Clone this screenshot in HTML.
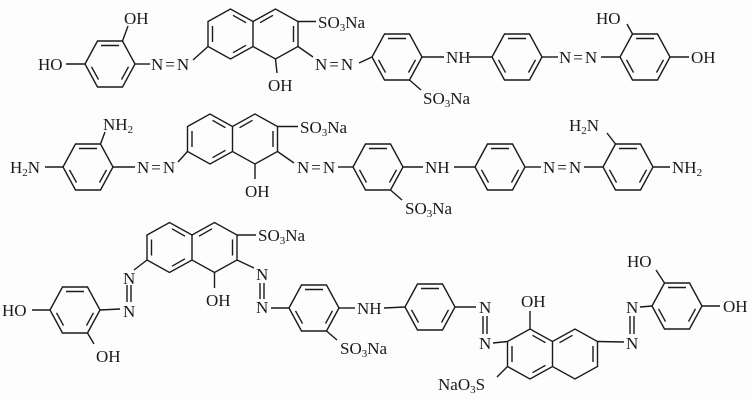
<!DOCTYPE html>
<html><head><meta charset="utf-8"><style>
html,body{margin:0;padding:0;background:#fdfdfd;width:753px;height:401px;overflow:hidden}
svg{display:block}
text{font-family:"Liberation Serif",serif;font-size:17px;fill:#1a1a1a}
.s{font-size:11px}
</style></head><body>
<svg width="753" height="401" viewBox="0 0 753 401" xmlns="http://www.w3.org/2000/svg">
<defs>
<g id="rA" fill="none" stroke="#1a1a1a" stroke-width="1.4">
<polygon points="-25,0 -12.5,-23 12.5,-23 25,0 12.5,23 -12.5,23"/>
<line x1="-9" y1="-18.5" x2="9" y2="-18.5"/>
<line x1="18.5" y1="2.8" x2="11.5" y2="15.6"/>
<line x1="-11.5" y1="15.6" x2="-18.5" y2="2.8"/>
</g>
<g id="nap" fill="none" stroke="#1a1a1a" stroke-width="1.4">
<path d="M-45,-12.5 L-22.5,-25 L0,-12.5 L22.5,-25 L45,-12.5 L45,12.5 L22.5,25 L0,12.5 L-22.5,25 L-45,12.5 Z M0,-12.5 L0,12.5"/>
<line x1="-20" y1="-18.7" x2="-7" y2="-11.3"/>
<line x1="-7" y1="11.3" x2="-20" y2="18.7"/>
<line x1="-40.5" y1="-8" x2="-40.5" y2="8"/>
<line x1="7" y1="-11.3" x2="20" y2="-18.7"/>
<line x1="40.5" y1="-8" x2="40.5" y2="8"/>
</g>
</defs>
<g stroke="#1a1a1a" stroke-width="1.4" fill="none">
<!-- row 1 -->
<line x1="66" y1="64" x2="85" y2="64"/><line x1="122.5" y1="41" x2="128" y2="26"/>
<line x1="135" y1="64" x2="150" y2="64"/><line x1="193" y1="60" x2="208" y2="46.5"/>
<line x1="298" y1="21.5" x2="316" y2="21.5"/><line x1="275.5" y1="59" x2="277" y2="73"/>
<line x1="298" y1="46.5" x2="313" y2="57"/><line x1="359" y1="63" x2="372" y2="57"/>
<line x1="422" y1="57" x2="444" y2="57"/><line x1="409.5" y1="80" x2="421" y2="90"/>
<line x1="469" y1="57" x2="492" y2="57"/><line x1="542" y1="57" x2="558" y2="57"/>
<line x1="601" y1="57" x2="620" y2="57"/><line x1="632.5" y1="34" x2="627" y2="24"/>
<line x1="670" y1="57" x2="689" y2="57"/>
<!-- row 2 -->
<line x1="45" y1="167" x2="63" y2="167"/><line x1="100.5" y1="144" x2="105" y2="132"/>
<line x1="113" y1="167" x2="135" y2="167"/><line x1="178" y1="162" x2="187.5" y2="151.5"/>
<line x1="277.5" y1="126.5" x2="298" y2="126.5"/><line x1="255" y1="164" x2="255" y2="179"/>
<line x1="277.5" y1="151.5" x2="294" y2="163"/><line x1="338" y1="167" x2="353" y2="167"/>
<line x1="403" y1="167" x2="423" y2="167"/><line x1="390.5" y1="190" x2="402" y2="200"/>
<line x1="454" y1="167" x2="475" y2="167"/><line x1="525" y1="167" x2="541" y2="167"/>
<line x1="584" y1="167" x2="603" y2="167"/><line x1="615.5" y1="144" x2="607" y2="133"/>
<line x1="653" y1="167" x2="670" y2="167"/>
<!-- row 3 -->
<line x1="237" y1="235" x2="256" y2="235"/><line x1="214.5" y1="272.5" x2="214.5" y2="288"/>
<line x1="147" y1="260" x2="134" y2="270"/>
<line x1="127" y1="285" x2="127" y2="302"/><line x1="131" y1="285" x2="131" y2="302"/>
<line x1="120" y1="309" x2="100" y2="310"/>
<line x1="32" y1="310" x2="50" y2="310"/><line x1="87.5" y1="333" x2="94" y2="344"/>
<line x1="237" y1="260" x2="254" y2="268"/>
<line x1="260" y1="283" x2="260" y2="299"/><line x1="264" y1="283" x2="264" y2="299"/>
<line x1="271" y1="308" x2="289" y2="308"/>
<line x1="339" y1="308" x2="355" y2="308"/><line x1="326.5" y1="331" x2="337" y2="340"/>
<line x1="384" y1="308" x2="405" y2="307"/><line x1="455" y1="307" x2="476" y2="307"/>
<line x1="483" y1="316" x2="483" y2="334"/><line x1="487" y1="316" x2="487" y2="334"/>
<line x1="493" y1="343" x2="507.5" y2="341.5"/>
<line x1="530" y1="329" x2="530" y2="311"/>
<line x1="507.5" y1="366.5" x2="497" y2="377"/>
<line x1="597.5" y1="341.5" x2="624" y2="342"/>
<line x1="630" y1="316" x2="630" y2="334"/><line x1="634" y1="316" x2="634" y2="334"/>
<line x1="640" y1="307" x2="652" y2="306"/><line x1="664.5" y1="283" x2="656" y2="270"/>
<line x1="702" y1="306" x2="720" y2="306"/>
</g>
<use href="#rA" x="110" y="64"/><use href="#nap" x="253" y="34"/>
<use href="#rA" x="397" y="57"/><use href="#rA" x="517" y="57"/><use href="#rA" x="645" y="57"/>
<use href="#rA" x="88" y="167"/><use href="#nap" x="232.5" y="139"/>
<use href="#rA" x="378" y="167"/><use href="#rA" x="500" y="167"/><use href="#rA" x="628" y="167"/>
<use href="#nap" x="192" y="247.5"/><use href="#rA" x="75" y="310"/>
<use href="#rA" x="314" y="308"/><use href="#rA" x="430" y="307"/>
<use href="#nap" x="552.5" y="354"/><use href="#rA" x="677" y="306"/>

<!-- row 1 text -->
<text x="38" y="70">HO</text>
<text x="124" y="24">OH</text>
<text x="151" y="70" letter-spacing="2">N=N</text>
<text x="318" y="28">SO<tspan class="s" dy="3">3</tspan><tspan dy="-3">Na</tspan></text>
<text x="268" y="91">OH</text>
<text x="315" y="70" letter-spacing="2">N=N</text>
<text x="446" y="63">NH</text>
<text x="423" y="104">SO<tspan class="s" dy="3">3</tspan><tspan dy="-3">Na</tspan></text>
<text x="559" y="63" letter-spacing="2">N=N</text>
<text x="596" y="24">HO</text>
<text x="691" y="63">OH</text>
<!-- row 2 text -->
<text x="10" y="173">H<tspan class="s" dy="3">2</tspan><tspan dy="-3">N</tspan></text>
<text x="103" y="130">NH<tspan class="s" dy="3">2</tspan></text>
<text x="137" y="173" letter-spacing="2">N=N</text>
<text x="300" y="133">SO<tspan class="s" dy="3">3</tspan><tspan dy="-3">Na</tspan></text>
<text x="245" y="197">OH</text>
<text x="297" y="173" letter-spacing="2">N=N</text>
<text x="425" y="173">NH</text>
<text x="405" y="214">SO<tspan class="s" dy="3">3</tspan><tspan dy="-3">Na</tspan></text>
<text x="543" y="173" letter-spacing="2">N=N</text>
<text x="569" y="131">H<tspan class="s" dy="3">2</tspan><tspan dy="-3">N</tspan></text>
<text x="672" y="173">NH<tspan class="s" dy="3">2</tspan></text>
<!-- row 3 text -->
<text x="258" y="241">SO<tspan class="s" dy="3">3</tspan><tspan dy="-3">Na</tspan></text>
<text x="206" y="306">OH</text>
<text x="123" y="284">N</text>
<text x="123" y="317">N</text>
<text x="2" y="316">HO</text>
<text x="96" y="362">OH</text>
<text x="256" y="280">N</text>
<text x="256" y="313">N</text>
<text x="357" y="314">NH</text>
<text x="340" y="354">SO<tspan class="s" dy="3">3</tspan><tspan dy="-3">Na</tspan></text>
<text x="479" y="313">N</text>
<text x="479" y="349">N</text>
<text x="521" y="307">OH</text>
<text x="438" y="390">NaO<tspan class="s" dy="3">3</tspan><tspan dy="-3">S</tspan></text>
<text x="626" y="313">N</text>
<text x="626" y="349">N</text>
<text x="627" y="267">HO</text>
<text x="723" y="312">OH</text>
</svg>
</body></html>
